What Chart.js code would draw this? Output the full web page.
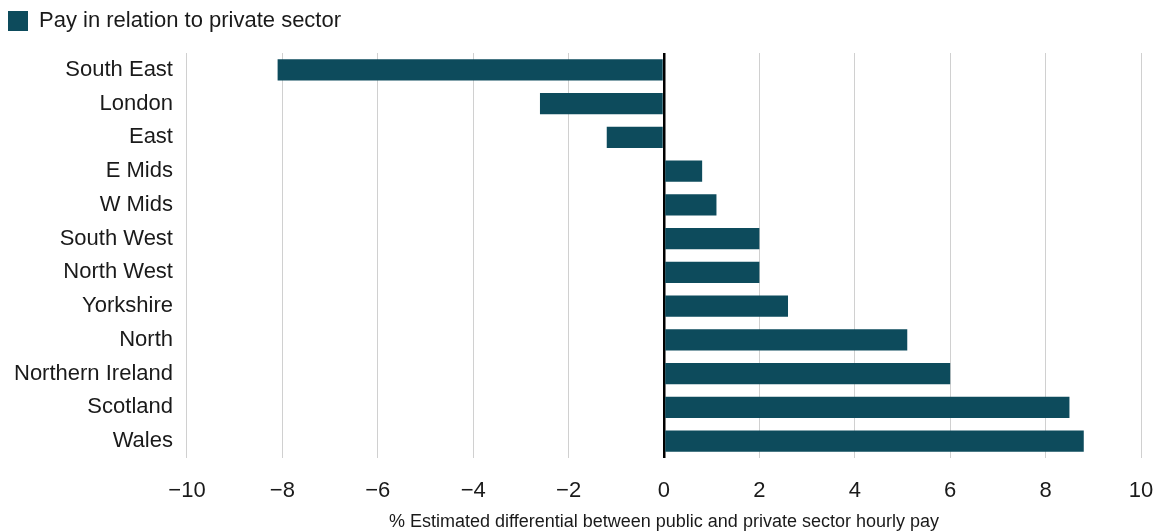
<!DOCTYPE html>
<html>
<head>
<meta charset="utf-8">
<script src="https://cdn.jsdelivr.net/npm/chart.js@4"></script>
<style>
  html, body { margin: 0; padding: 0; background: #fff; }
  #wrap { width: 1167px; height: 532px; }
</style>
</head>
<body>
<div id="wrap"><canvas id="grafica"></canvas></div>
<script>
const regions = ['South East', 'London', 'East', 'E Mids', 'W Mids', 'South West',
    'North West', 'Yorkshire', 'North', 'Northern Ireland', 'Scotland', 'Wales'];
const payDiff = [-8.1, -2.6, -1.2, 0.8, 1.1, 2.0, 2.0, 2.6, 5.1, 6.0, 8.5, 8.8];
const xTicks = [-10, -8, -6, -4, -2, 0, 2, 4, 6, 8, 10];

Chart.defaults.font.family = '"Liberation Sans", Arial, sans-serif';
Chart.defaults.color = '#1a1a1a';

const ctx = document.getElementById('grafica');

// a bit more room under the legend
const legendGap = {
    id: 'legendGap',
    beforeInit(chart) {
        const fit = chart.legend.fit;
        chart.legend.fit = function () {
            fit.bind(chart.legend)();
            this.height += 11;
        };
    }
};

new Chart(ctx, {
    type: 'bar',
    data: {
        labels: regions,
        datasets: [{
            label: 'Pay in relation to private sector',
            data: payDiff,
            backgroundColor: '#0d4b5c',
            borderWidth: 0,
            categoryPercentage: 1,
            barPercentage: 0.63
        }]
    },
    options: {
        indexAxis: 'y',
        responsive: true,
        maintainAspectRatio: false,
        animation: false,
        layout: {
            padding: { left: 0, right: 26, top: 2, bottom: 0 }
        },
        plugins: {
            legend: {
                display: true,
                align: 'start',
                labels: {
                    boxWidth: 20,
                    boxHeight: 20,
                    padding: 8,
                    font: { size: 22 },
                    color: '#1a1a1a'
                }
            },
            tooltip: { enabled: false }
        },
        scales: {
            x: {
                min: xTicks[0],
                max: xTicks[xTicks.length - 1],
                afterBuildTicks: (axis) => {
                    axis.ticks = xTicks.map(v => ({ value: v }));
                },
                afterFit: (axis) => {
                    axis.paddingLeft = 0;
                    axis.paddingRight = 0;
                },
                border: { display: false },
                grid: {
                    drawTicks: false,
                    color: (c) => c.tick && c.tick.value === 0 ? '#000' : '#d0d0d0',
                    lineWidth: (c) => c.tick && c.tick.value === 0 ? 2.5 : 1
                },
                ticks: {
                    padding: 20,
                    font: { size: 22 },
                    callback: (v) => String(v).replace('-', '\u2212')
                },
                title: {
                    display: true,
                    text: '% Estimated differential between public and private sector hourly pay',
                    font: { size: 18 },
                    padding: { top: -13, bottom: -1 }
                }
            },
            y: {
                border: { display: false },
                grid: { display: false, drawTicks: false },
                ticks: {
                    padding: 14,
                    font: { size: 22 }
                }
            }
        }
    },
    plugins: [legendGap]
});
</script>
</body>
</html>
